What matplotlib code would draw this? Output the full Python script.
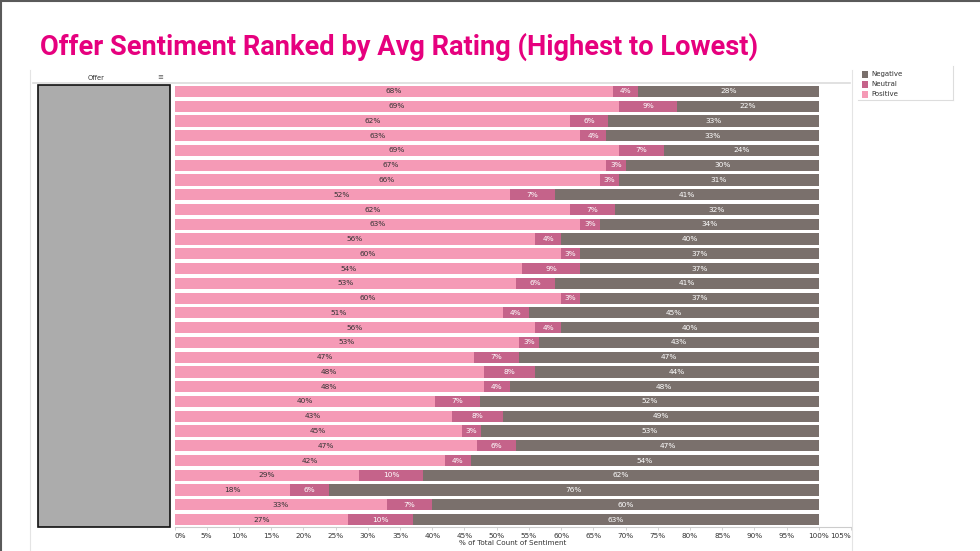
import matplotlib.pyplot as plt
from matplotlib.patches import Rectangle
from matplotlib.lines import Line2D
import numpy as np

# rounded % shown on the bars, top row first
positive = [68, 69, 62, 63, 69, 67, 66, 52, 62, 63, 56, 60, 54, 53, 60,
            51, 56, 53, 47, 48, 48, 40, 43, 45, 47, 42, 29, 18, 33, 27]
neutral = [4, 9, 6, 4, 7, 3, 3, 7, 7, 3, 4, 3, 9, 6, 3,
           4, 4, 3, 7, 8, 4, 7, 8, 3, 6, 4, 10, 6, 7, 10]
negative = [28, 22, 33, 33, 24, 30, 31, 41, 32, 34, 40, 37, 37, 41, 37,
            45, 40, 43, 47, 44, 48, 52, 49, 53, 47, 54, 62, 76, 60, 63]
sentiments = ['Negative', 'Neutral', 'Positive']
ticks = list(range(0, 106, 5))

c_pos = '#f59ab6'
c_neu = '#c5638a'
c_neg = '#7a706c'

W, H = 980, 551
fig = plt.figure(figsize=(9.8, 5.51), dpi=100)
fig.patch.set_facecolor('white')

def fx(px):
    return px / W

def fy(py):
    return 1 - py / H

# outer border of the slide (left and top)
fig.add_artist(Line2D([fx(1), fx(1)], [0, 1], color='#5a5a5a', lw=1.5))
fig.add_artist(Line2D([0, 1], [fy(1), fy(1)], color='#5a5a5a', lw=1.5))

fig.text(fx(40), fy(47), 'Offer Sentiment Ranked by Avg Rating (Highest to Lowest)',
         color='#e6007e', fontsize=19.6, fontweight='bold', family='Roboto',
         va='center', ha='left')

# light frame of the worksheet
fig.add_artist(Line2D([fx(30), fx(30)], [0, fy(70)], color='#e4e4e4', lw=0.8))
fig.add_artist(Line2D([fx(852), fx(852)], [0, fy(70)], color='#e4e4e4', lw=0.8))
fig.add_artist(Line2D([fx(33), fx(850)], [fy(83), fy(83)], color='#dcdcdc', lw=1.2))

# header of the offer column
fig.text(fx(96), fy(78), 'Offer', fontsize=4.8, color='#333333', ha='center', va='center')
fig.text(fx(160), fy(77), '\u2261', fontsize=5, color='#555555', ha='center', va='center')

# blanked-out offer names
fig.add_artist(Rectangle((fx(38), fy(527)), fx(170) - fx(38), fy(85) - fy(527),
                         transform=fig.transFigure, facecolor='#acacac',
                         edgecolor='#111111', lw=1.2))

ax = fig.add_axes([fx(174.5), fy(527), fx(851) - fx(174.5), fy(84) - fy(527)])
n = len(positive)
y = np.arange(n)
tot = np.array(positive) + np.array(neutral) + np.array(negative)
p = np.array(positive) / tot * 100
u = np.array(neutral) / tot * 100
g = np.array(negative) / tot * 100

h = 0.76
ax.barh(y, p, height=h, color=c_pos, label='Positive')
ax.barh(y, u, left=p, height=h, color=c_neu, label='Neutral')
ax.barh(y, g, left=p + u, height=h, color=c_neg, label='Negative')

fs = 5.3
for i in range(n):
    ax.text(p[i] / 2, i, f'{positive[i]}%', ha='center', va='center',
            fontsize=fs, color='#333333')
    ax.text(p[i] + u[i] / 2, i, f'{neutral[i]}%', ha='center', va='center',
            fontsize=fs, color='white')
    ax.text(p[i] + u[i] + g[i] / 2, i, f'{negative[i]}%', ha='center', va='center',
            fontsize=fs, color='white')

ax.set_xlim(0, 105)
ax.set_ylim(n - 0.5, -0.5)
ax.set_yticks([])
ax.set_xticks(ticks)
ax.set_xticklabels([f'{t}%' for t in ticks], fontsize=5.2, color='#333333')
ax.get_xticklabels()[0].set_ha('left')
ax.get_xticklabels()[-1].set_ha('right')
ax.tick_params(axis='x', length=2, width=0.6, color='#cccccc', pad=2)
for s in ['top', 'right', 'left']:
    ax.spines[s].set_visible(False)
ax.spines['bottom'].set_color('#cccccc')
ax.spines['bottom'].set_linewidth(0.8)
ax.set_xlabel('% of Total Count of Sentiment', fontsize=5.2, color='#333333', labelpad=1)

# legend
leg_ax = fig.add_axes([fx(860), fy(98), fx(953) - fx(860), fy(66) - fy(98)])
leg_ax.set_xlim(0, 1)
leg_ax.set_ylim(3.2, 0)
leg_ax.axis('off')
cols = {'Negative': c_neg, 'Neutral': c_neu, 'Positive': c_pos}
for k, name in enumerate(sentiments):
    leg_ax.add_patch(Rectangle((0.02, k + 0.45), 0.07, 0.75, facecolor=cols[name],
                               edgecolor='none'))
    leg_ax.text(0.12, k + 0.82, name, fontsize=5, color='#333333', va='center')
fig.add_artist(Line2D([fx(953), fx(953)], [fy(100), fy(66)], color='#dddddd', lw=0.8))
fig.add_artist(Line2D([fx(858), fx(953)], [fy(100), fy(100)], color='#dddddd', lw=0.8))

fig.savefig('out.png', dpi=100)
